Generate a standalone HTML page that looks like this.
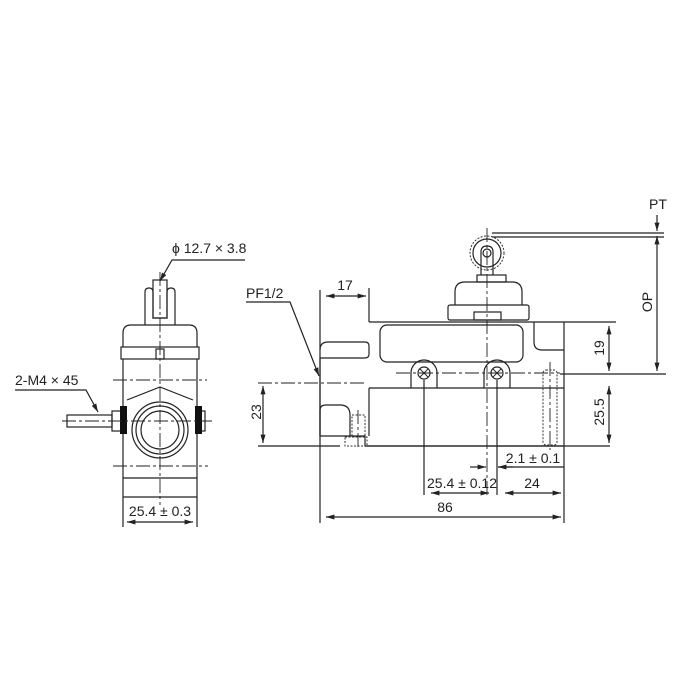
<!DOCTYPE html>
<html><head><meta charset="utf-8"><style>
html,body{margin:0;padding:0;background:#fff}
svg{display:block}
text{font-family:"Liberation Sans",sans-serif;font-size:14px;fill:#222}
</style></head><body>
<svg width="700" height="700" viewBox="0 0 700 700" xmlns="http://www.w3.org/2000/svg">
<defs>
<marker id="a" viewBox="0 0 10 10" refX="10" refY="5" markerWidth="7" markerHeight="7" orient="auto-start-reverse"><path d="M0,2 L10,5 L0,8 z" fill="#222"/></marker>
</defs>
<g stroke="#222" stroke-width="1.2" fill="none">
<path d="M145,325 V292 Q145,288 149,288 Q153,288 153,292 V318 H167 V292 Q167,288 171,288 Q175,288 175,292 V325"/>
<rect x="153" y="280" width="14" height="38"/>
<path d="M123,347 V333 Q123,325 131,325 H189 Q197,325 197,333 V347"/>
<rect x="121" y="347" width="78" height="12"/>
<rect x="156" y="349" width="8" height="10"/>
<path d="M123,359 V497 H197 V359"/>
<line x1="123" y1="478" x2="197" y2="478"/>
<path d="M127,400 L160,387 L193,400"/>
<circle cx="160" cy="430" r="28"/>
<circle cx="160" cy="430" r="24"/>
<circle cx="160" cy="430" r="19"/>
<rect x="67" y="415" width="45" height="12"/>
<rect x="112" y="411" width="9" height="20"/>
<rect x="199" y="411" width="6" height="20"/>
<line x1="123" y1="497" x2="123" y2="527"/><line x1="197" y1="497" x2="197" y2="527"/>
<line x1="127" y1="522" x2="193" y2="522" marker-start="url(#a)" marker-end="url(#a)"/>
<polyline points="245,260 172,260 160,281" marker-end="url(#a)"/>
<polyline points="15,390 86,390 98,412" marker-end="url(#a)"/>
</g>
<g fill="#111"><rect x="120" y="406" width="7" height="28"/><rect x="195" y="406" width="7" height="28"/></g>
<g stroke="#222" stroke-width="0.9" fill="none" stroke-dasharray="14,3,3,3">
<line x1="160" y1="272" x2="160" y2="505"/>
<line x1="113" y1="380" x2="207" y2="380"/>
<line x1="62" y1="421" x2="212" y2="421"/>
<line x1="113" y1="466" x2="208" y2="466"/>
</g>
<text x="172" y="253">ϕ 12.7 × 3.8</text>
<text x="15" y="385">2-M4 × 45</text>
<text x="160" y="516" text-anchor="middle">25.4 ± 0.3</text>

<g stroke="#222" stroke-width="1.2" fill="none">
<path d="M369,322 H564 V446 H365 V436 H320 V358 H365 Q369,358 369,354 V346 Q369,342 365,342 H328 Q320,342 320,350"/>
<line x1="369" y1="388" x2="564" y2="388"/>
<line x1="369" y1="388" x2="369" y2="436"/>
<rect x="380" y="325" width="143" height="37" rx="7"/>
<path d="M534,322 V342 Q534,350 542,350 H564"/>
<path d="M320,436 V410 Q320,405 326,405 H340 Q350,405 350,415 V436"/>
<path d="M411,388 V373 A13,13 0 0 1 437,373 V388"/>
<path d="M484,388 V373 A13,13 0 0 1 510,373 V388"/>
<circle cx="424" cy="373" r="6"/><circle cx="497" cy="373" r="6"/>
<path d="M420,369 L428,377 M428,369 L420,377 M493,369 L501,377 M501,369 L493,377" stroke-width="0.9"/>
<rect x="448" y="305" width="81" height="15" rx="2"/>
<rect x="474" y="312" width="27" height="8"/>
<path d="M455,305 V292 Q455,282 465,282 H512 Q522,282 522,292 V305"/>
<rect x="477" y="275" width="29" height="7"/>
<circle cx="487" cy="253" r="14"/>
<path d="M481,275 V252 Q481,246 487,246 Q493,246 493,252 V275"/>
<circle cx="487" cy="253" r="4"/>
<line x1="320" y1="290" x2="320" y2="523"/>
<line x1="369" y1="288" x2="369" y2="322"/>
<line x1="326" y1="296" x2="366" y2="296" marker-start="url(#a)" marker-end="url(#a)"/>
<polyline points="246,302 290,302 319,376" marker-end="url(#a)"/>
<line x1="258" y1="446" x2="340" y2="446"/>
<line x1="365" y1="446" x2="610" y2="446"/>
<line x1="263" y1="386" x2="263" y2="443" marker-start="url(#a)" marker-end="url(#a)"/>
<line x1="564" y1="322" x2="616" y2="322"/>
<line x1="560" y1="374" x2="666" y2="374"/>
<line x1="609" y1="326" x2="609" y2="371" marker-start="url(#a)" marker-end="url(#a)"/>
<line x1="609" y1="386" x2="609" y2="443" marker-start="url(#a)" marker-end="url(#a)"/>
<line x1="657" y1="236" x2="657" y2="371" marker-start="url(#a)" marker-end="url(#a)"/>
<line x1="657" y1="215" x2="657" y2="231" marker-end="url(#a)"/>
<line x1="492" y1="233" x2="664" y2="233"/>
<line x1="492" y1="237" x2="664" y2="237"/>
<line x1="424" y1="380" x2="424" y2="495"/>
<line x1="497" y1="380" x2="497" y2="495"/>
<line x1="564" y1="446" x2="564" y2="523"/>
<line x1="470" y1="467" x2="486" y2="467" marker-end="url(#a)"/>
<line x1="513" y1="467" x2="498" y2="467" marker-end="url(#a)"/>
<line x1="498" y1="467" x2="564" y2="467"/>
<line x1="431" y1="493" x2="489" y2="493" marker-start="url(#a)" marker-end="url(#a)"/>
<line x1="505" y1="493" x2="561" y2="493" marker-start="url(#a)" marker-end="url(#a)"/>
<line x1="326" y1="517" x2="561" y2="517" marker-start="url(#a)" marker-end="url(#a)"/>
</g>
<g stroke="#333" stroke-width="1" fill="none" stroke-dasharray="2,1.5">
<rect x="543" y="370" width="14" height="75" rx="3"/>
<rect x="352" y="415" width="13" height="22"/>
<rect x="345" y="437" width="22" height="9"/>
<circle cx="487" cy="253" r="17"/>
</g>
<g stroke="#222" stroke-width="0.9" fill="none" stroke-dasharray="14,3,3,3">
<line x1="487" y1="228" x2="487" y2="495"/>
<line x1="258" y1="383" x2="366" y2="383"/>
<line x1="396" y1="373" x2="560" y2="373"/>
<line x1="550" y1="362" x2="550" y2="450"/>
<line x1="358" y1="410" x2="358" y2="450"/>
</g>
<text x="345" y="290" text-anchor="middle">17</text>
<text x="246" y="298">PF1/2</text>
<text x="0" y="0" transform="translate(261,412) rotate(-90)" text-anchor="middle">23</text>
<text x="0" y="0" transform="translate(604,348) rotate(-90)" text-anchor="middle">19</text>
<text x="0" y="0" transform="translate(604,412) rotate(-90)" text-anchor="middle">25.5</text>
<text x="0" y="0" transform="translate(652,302) rotate(-90)" text-anchor="middle">OP</text>
<text x="658" y="209" text-anchor="middle">PT</text>
<text x="533" y="463" text-anchor="middle">2.1 ± 0.1</text>
<text x="462" y="488" text-anchor="middle">25.4 ± 0.12</text>
<text x="532" y="488" text-anchor="middle">24</text>
<text x="445" y="512" text-anchor="middle">86</text>
</svg>
</body></html>
